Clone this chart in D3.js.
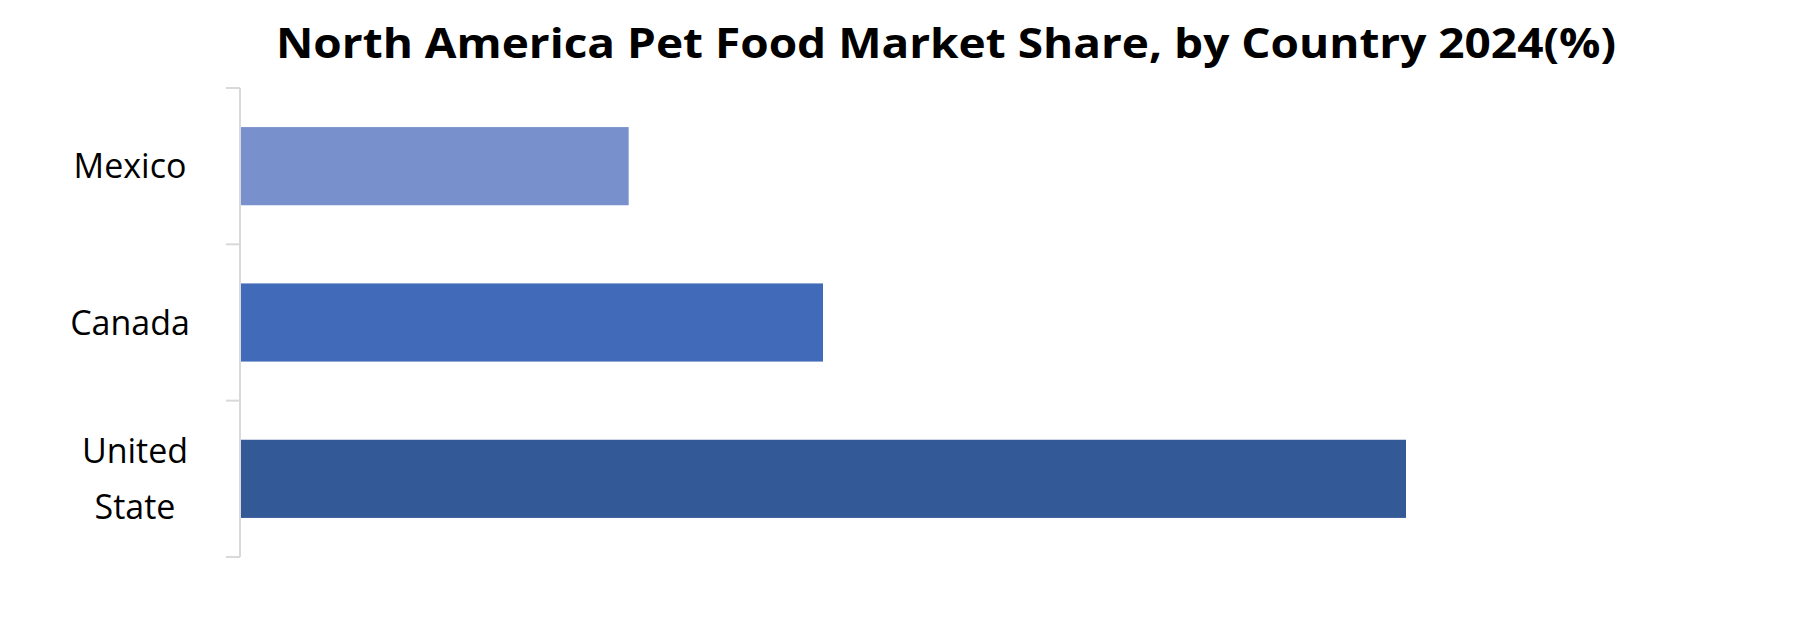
<!DOCTYPE html>
<html>
<head>
<meta charset="UTF-8">
<script src="https://d3js.org/d3.v7.min.js"></script>
<style>body{margin:0;background:#fff}</style>
</head>
<body>
<svg width="1820" height="625" font-family="'Open Sans', sans-serif"></svg>
<script>
var countries = ["Mexico", "Canada", "United State"];
var shares = [20, 30, 60];
var colors = ["#7891CD", "#416BB8", "#335A97"];

var svg = d3.select("svg");

var x = d3.scaleLinear().domain([0, 60]).range([240, 1406]);
var y = d3.scaleBand().domain(countries).range([88, 557]).paddingInner(0.5).paddingOuter(0.25);

svg.append("text")
    .attr("x", 946).attr("y", 58)
    .attr("text-anchor", "middle")
    .attr("font-size", 42).attr("font-weight", "bold")
    .attr("textLength", 1340).attr("lengthAdjust", "spacingAndGlyphs")
    .text("North America Pet Food Market Share, by Country 2024(%)");

svg.selectAll("rect.bar")
    .data(countries)
    .enter().append("rect")
    .attr("class", "bar")
    .attr("x", x(0))
    .attr("y", function(d) { return y(d); })
    .attr("width", function(d, i) { return x(shares[i]) - x(0); })
    .attr("height", y.bandwidth())
    .attr("fill", function(d, i) { return colors[i]; });

// axis line with boundary ticks
var axis = svg.append("g").attr("stroke", "#d9d9d9").attr("stroke-width", 2);
axis.append("line").attr("x1", 240).attr("x2", 240).attr("y1", 88).attr("y2", 557);
var bounds = [88].concat(countries.map(function(d) { return y(d) + y.bandwidth() + y.step() * y.paddingInner() / 2; }));
bounds[bounds.length - 1] = 557;
axis.selectAll("line.tick").data(bounds).enter().append("line")
    .attr("x1", 226).attr("x2", 240)
    .attr("y1", function(d) { return d; }).attr("y2", function(d) { return d; });

svg.selectAll("text.label")
    .data(countries)
    .enter().append("text")
    .attr("class", "label")
    .attr("text-anchor", "middle")
    .attr("font-size", 34)
    .attr("fill", "#000")
    .each(function(d) {
        var t = d3.select(this);
        var cy = y(d) + y.bandwidth() / 2;
        var words = d === "United State" ? ["United", "State"] : [d];
        words.forEach(function(w, j) {
            t.append("tspan")
                .attr("x", d === "United State" ? 135 : 130)
                .attr("y", cy + 12 + (j - (words.length - 1) / 2) * 56)
                .text(w);
        });
    });
</script>
</body>
</html>
